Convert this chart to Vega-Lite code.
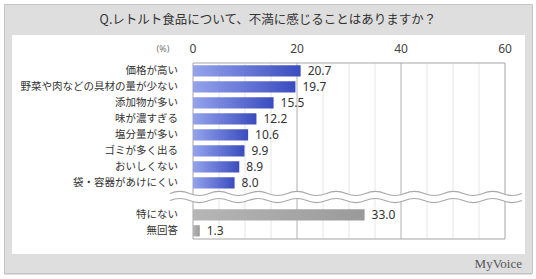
{
  "$schema": "https://vega.github.io/schema/vega-lite/v6.json",
  "width": 513,
  "height": 219,
  "autosize": {"type": "none"},
  "padding": {"left": 12, "top": 35, "right": 11, "bottom": 25},
  "background": "#dedede",
  "config": {"font": "Noto Sans CJK JP", "view": {"stroke": null, "fill": "#ffffff"}},
  "resolve": {"scale": {"y": "independent"}},
  "layer": [
    {
      "data": {"values": [{}]},
      "mark": {"type": "rect", "fill": null, "stroke": "#ffffff", "strokeWidth": 8},
      "encoding": {
        "x": {"datum": -37.115, "type": "quantitative", "scale": {"domain": [-34.8077, 63.846], "nice": false, "zero": false}, "axis": null},
        "x2": {"datum": 65.962},
        "y": {"datum": -4.4375, "type": "quantitative", "scale": {"domain": [-2.25, 11.4375], "reverse": true, "nice": false, "zero": false}, "axis": null},
        "y2": {"datum": 13.0}
      }
    },
    {
      "data": {"values": [{}]},
      "mark": {"type": "rect", "fill": null, "stroke": "#c4c4c4", "strokeWidth": 1},
      "encoding": {
        "x": {"datum": -36.25, "type": "quantitative", "scale": {"domain": [-34.8077, 63.846], "nice": false, "zero": false}, "axis": null},
        "x2": {"datum": 65.29},
        "y": {"datum": -4.156, "type": "quantitative", "scale": {"domain": [-2.25, 11.4375], "reverse": true, "nice": false, "zero": false}, "axis": null},
        "y2": {"datum": 12.656}
      }
    },
    {
      "data": {"values": [{"v": 5}, {"v": 10}, {"v": 15}, {"v": 20}, {"v": 25}, {"v": 30}, {"v": 35}, {"v": 40}, {"v": 45}, {"v": 50}, {"v": 55}]},
      "mark": {"type": "rule", "strokeWidth": 1},
      "encoding": {
        "x": {"field": "v", "type": "quantitative", "scale": {"domain": [-34.8077, 63.846], "nice": false, "zero": false}, "axis": null},
        "y": {"datum": -0.5, "type": "quantitative", "scale": {"domain": [-2.25, 11.4375], "reverse": true, "nice": false, "zero": false}, "axis": null},
        "y2": {"datum": 10.5},
        "color": {"condition": {"test": "datum.v % 20 === 0", "value": "#b0b0b0"}, "value": "#e6e6e6"}
      }
    },
    {
      "data": {"values": [{}]},
      "mark": {"type": "rect", "fill": null, "stroke": "#a6a6a6", "strokeWidth": 1},
      "encoding": {
        "x": {"datum": 0, "type": "quantitative", "scale": {"domain": [-34.8077, 63.846], "nice": false, "zero": false}, "axis": null},
        "x2": {"datum": 60},
        "y": {"datum": -0.5, "type": "quantitative", "scale": {"domain": [-2.25, 11.4375], "reverse": true, "nice": false, "zero": false}, "axis": null},
        "y2": {"datum": 10.5}
      }
    },
    {
      "data": {"name": "answers", "values": [
        {"item": "価格が高い", "pct": 20.7},
        {"item": "野菜や肉などの具材の量が少ない", "pct": 19.7},
        {"item": "添加物が多い", "pct": 15.5},
        {"item": "味が濃すぎる", "pct": 12.2},
        {"item": "塩分量が多い", "pct": 10.6},
        {"item": "ゴミが多く出る", "pct": 9.9},
        {"item": "おいしくない", "pct": 8.9},
        {"item": "袋・容器があけにくい", "pct": 8.0},
        {"item": "特にない", "pct": 33.0},
        {"item": "無回答", "pct": 1.3}
      ]},
      "layer": [
        {
          "mark": {"type": "bar"},
          "encoding": {
            "x": {"field": "pct", "type": "quantitative", "scale": {"domain": [-34.8077, 63.846], "nice": false, "zero": false}, "axis": null},
            "x2": {"datum": 0},
            "y": {"field": "item", "type": "nominal", "sort": null,
              "scale": {"domain": ["価格が高い", "野菜や肉などの具材の量が少ない", "添加物が多い", "味が濃すぎる", "塩分量が多い", "ゴミが多く出る", "おいしくない", "袋・容器があけにくい", " ", "特にない", "無回答", "  "], "paddingInner": 0.3, "paddingOuter": 1, "align": 0.95},
              "axis": null},
            "color": {
              "condition": {"test": "datum.item === '特にない' || datum.item === '無回答'",
                "value": {"gradient": "linear", "stops": [{"offset": 0, "color": "#b6b6b6"}, {"offset": 1, "color": "#9a9a9a"}]}},
              "value": {"gradient": "linear", "stops": [{"offset": 0, "color": "#95a3ec"}, {"offset": 1, "color": "#3a4cbf"}]}
            }
          }
        },
        {
          "mark": {"type": "text", "align": "left", "baseline": "middle", "dx": 7, "fontSize": 12, "color": "#333333", "font": "Noto Sans"},
          "encoding": {
            "x": {"field": "pct", "type": "quantitative", "scale": {"domain": [-34.8077, 63.846], "nice": false, "zero": false}, "axis": null},
            "y": {"field": "item", "type": "nominal", "sort": null,
              "scale": {"domain": ["価格が高い", "野菜や肉などの具材の量が少ない", "添加物が多い", "味が濃すぎる", "塩分量が多い", "ゴミが多く出る", "おいしくない", "袋・容器があけにくい", " ", "特にない", "無回答", "  "], "paddingInner": 0.3, "paddingOuter": 1, "align": 0.95},
              "axis": null},
            "text": {"field": "pct", "type": "quantitative", "format": ".1f"}
          }
        },
        {
          "mark": {"type": "text", "align": "right", "baseline": "middle", "fontSize": 10.5, "color": "#333333"},
          "encoding": {
            "x": {"datum": -2.9, "type": "quantitative", "scale": {"domain": [-34.8077, 63.846], "nice": false, "zero": false}, "axis": null},
            "y": {"field": "item", "type": "nominal", "sort": null,
              "scale": {"domain": ["価格が高い", "野菜や肉などの具材の量が少ない", "添加物が多い", "味が濃すぎる", "塩分量が多い", "ゴミが多く出る", "おいしくない", "袋・容器があけにくい", " ", "特にない", "無回答", "  "], "paddingInner": 0.3, "paddingOuter": 1, "align": 0.95},
              "axis": null},
            "text": {"field": "item"}
          }
        }
      ]
    },
    {
      "data": {"values": [{"t": 0}, {"t": 20}, {"t": 40}, {"t": 60}]},
      "mark": {"type": "text", "align": "center", "baseline": "middle", "fontSize": 12, "color": "#444444", "font": "Noto Sans"},
      "encoding": {
        "x": {"field": "t", "type": "quantitative", "scale": {"domain": [-34.8077, 63.846], "nice": false, "zero": false}, "axis": null},
        "y": {"datum": -1.375, "type": "quantitative", "scale": {"domain": [-2.25, 11.4375], "reverse": true, "nice": false, "zero": false}, "axis": null},
        "text": {"field": "t"}
      }
    },
    {
      "data": {"values": [{"label": "(%)"}]},
      "mark": {"type": "text", "align": "center", "baseline": "middle", "fontSize": 9, "color": "#777777", "font": "Noto Sans"},
      "encoding": {
        "x": {"datum": -5.77, "type": "quantitative", "scale": {"domain": [-34.8077, 63.846], "nice": false, "zero": false}, "axis": null},
        "y": {"datum": -1.375, "type": "quantitative", "scale": {"domain": [-2.25, 11.4375], "reverse": true, "nice": false, "zero": false}, "axis": null},
        "text": {"field": "label"}
      }
    },
    {
      "data": {"values": [{}]},
      "mark": {"type": "point", "filled": true, "fill": "#ffffff", "strokeWidth": 0, "opacity": 1, "size": 123904,
        "shape": "M -1 -0.02 Q -0.9444 -0.043 -0.8889 -0.02 T -0.7778 -0.02 T -0.6667 -0.02 T -0.5556 -0.02 T -0.4444 -0.02 T -0.3333 -0.02 T -0.2222 -0.02 T -0.1111 -0.02 T 0 -0.02 T 0.1111 -0.02 T 0.2222 -0.02 T 0.3333 -0.02 T 0.4444 -0.02 T 0.5556 -0.02 T 0.6667 -0.02 T 0.7778 -0.02 T 0.8889 -0.02 T 1 -0.02 L 1 0.02 Q 0.9444 0.043 0.8889 0.02 T 0.7778 0.02 T 0.6667 0.02 T 0.5556 0.02 T 0.4444 0.02 T 0.3333 0.02 T 0.2222 0.02 T 0.1111 0.02 T 0 0.02 T -0.1111 0.02 T -0.2222 0.02 T -0.3333 0.02 T -0.4444 0.02 T -0.5556 0.02 T -0.6667 0.02 T -0.7778 0.02 T -0.8889 0.02 T -1 0.02 Z"},
      "encoding": {
        "x": {"datum": 29.42, "type": "quantitative", "scale": {"domain": [-34.8077, 63.846], "nice": false, "zero": false}, "axis": null},
        "y": {"datum": 7.875, "type": "quantitative", "scale": {"domain": [-2.25, 11.4375], "reverse": true, "nice": false, "zero": false}, "axis": null}
      }
    },
    {
      "data": {"values": [{}]},
      "mark": {"type": "point", "filled": false, "stroke": "#a8a8a8", "strokeWidth": 1.2, "opacity": 1, "size": 123904,
        "shape": "M -1 -0.02 Q -0.9444 -0.043 -0.8889 -0.02 T -0.7778 -0.02 T -0.6667 -0.02 T -0.5556 -0.02 T -0.4444 -0.02 T -0.3333 -0.02 T -0.2222 -0.02 T -0.1111 -0.02 T 0 -0.02 T 0.1111 -0.02 T 0.2222 -0.02 T 0.3333 -0.02 T 0.4444 -0.02 T 0.5556 -0.02 T 0.6667 -0.02 T 0.7778 -0.02 T 0.8889 -0.02 T 1 -0.02 M -1 0.02 Q -0.9444 -0.003 -0.8889 0.02 T -0.7778 0.02 T -0.6667 0.02 T -0.5556 0.02 T -0.4444 0.02 T -0.3333 0.02 T -0.2222 0.02 T -0.1111 0.02 T 0 0.02 T 0.1111 0.02 T 0.2222 0.02 T 0.3333 0.02 T 0.4444 0.02 T 0.5556 0.02 T 0.6667 0.02 T 0.7778 0.02 T 0.8889 0.02 T 1 0.02"},
      "encoding": {
        "x": {"datum": 29.42, "type": "quantitative", "scale": {"domain": [-34.8077, 63.846], "nice": false, "zero": false}, "axis": null},
        "y": {"datum": 7.875, "type": "quantitative", "scale": {"domain": [-2.25, 11.4375], "reverse": true, "nice": false, "zero": false}, "axis": null}
      }
    },
    {
      "data": {"values": [{"label": "MyVoice"}]},
      "mark": {"type": "text", "align": "right", "baseline": "middle", "font": "Liberation Serif", "fontSize": 13, "color": "#555555"},
      "encoding": {
        "x": {"datum": 63.27, "type": "quantitative", "scale": {"domain": [-34.8077, 63.846], "nice": false, "zero": false}, "axis": null},
        "y": {"datum": 12.0625, "type": "quantitative", "scale": {"domain": [-2.25, 11.4375], "reverse": true, "nice": false, "zero": false}, "axis": null},
        "text": {"field": "label"}
      }
    },
    {
      "data": {"values": [{"label": "Q.レトルト食品について、不満に感じることはありますか？"}]},
      "mark": {"type": "text", "align": "center", "baseline": "middle", "fontSize": 12.5, "color": "#333333"},
      "encoding": {
        "x": {"datum": 14.42, "type": "quantitative", "scale": {"domain": [-34.8077, 63.846], "nice": false, "zero": false}, "axis": null},
        "y": {"datum": -3.1875, "type": "quantitative", "scale": {"domain": [-2.25, 11.4375], "reverse": true, "nice": false, "zero": false}, "axis": null},
        "text": {"field": "label"}
      }
    }
  ]
}
